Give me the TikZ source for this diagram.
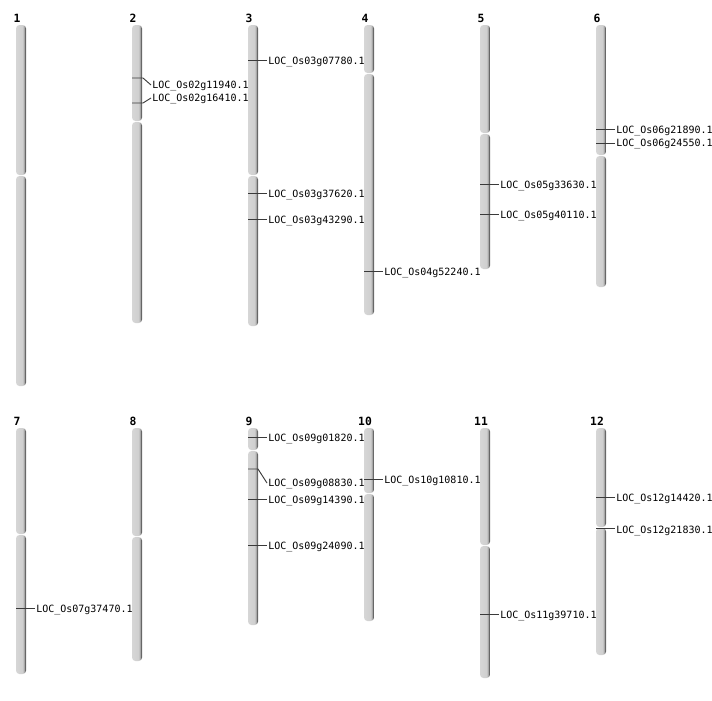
\documentclass[tikz,border=0pt]{standalone}
\usepackage{fontspec}
\newfontfamily\locfont{DejaVu Sans Mono}
\usepackage{tikz}

\definecolor{chrlight}{HTML}{D6D6D6}
\definecolor{chrmid}{HTML}{CFCFCF}
\definecolor{chrrim}{HTML}{A8A8A8}
\definecolor{chrdark}{HTML}{666666}
\definecolor{tickgray}{HTML}{3A3A3A}
\pgfdeclarehorizontalshading{chrshade}{100bp}{color(0bp)=(chrlight); color(25bp)=(chrlight); color(58bp)=(chrmid); color(65bp)=(chrrim); color(70bp)=(chrdark); color(75bp)=(chrdark); color(100bp)=(chrdark)}

\begin{document}
\begin{tikzpicture}[x=0.75pt,y=0.75pt,yscale=-1,xscale=1,
	chrarm/.style={shading=chrshade, rounded corners=2.6pt},
	chrnum/.style={font=\locfont\bfseries\fontsize{8.5}{9}\selectfont, anchor=base, inner sep=0.75pt},
	loclabel/.style={font=\locfont\fontsize{7.5}{9}\selectfont, anchor=west, inner sep=0.75pt, text height=6pt, text depth=0.5pt},
	marker/.style={draw=tickgray, line width=0.7pt}]
	\useasboundingbox (0,0) rectangle (712,700);
	
	% Chromosome arms, top row
	\shade[chrarm] (16,25) rectangle (26,175);
	\shade[chrarm] (16,176) rectangle (26,386);
	\shade[chrarm] (132,25) rectangle (142,121);
	\shade[chrarm] (132,122) rectangle (142,323);
	\shade[chrarm] (248,25) rectangle (258,175);
	\shade[chrarm] (248,176) rectangle (258,326);
	\shade[chrarm] (364,25) rectangle (374,73);
	\shade[chrarm] (364,74) rectangle (374,315);
	\shade[chrarm] (480,25) rectangle (490,133);
	\shade[chrarm] (480,134) rectangle (490,269);
	\shade[chrarm] (596,25) rectangle (606,155);
	\shade[chrarm] (596,156) rectangle (606,287);
	% Chromosome arms, bottom row
	\shade[chrarm] (16,428) rectangle (26,534);
	\shade[chrarm] (16,535) rectangle (26,674);
	\shade[chrarm] (132,428) rectangle (142,536);
	\shade[chrarm] (132,537) rectangle (142,661);
	\shade[chrarm] (248,428) rectangle (258,450);
	\shade[chrarm] (248,451) rectangle (258,625);
	\shade[chrarm] (364,428) rectangle (374,493);
	\shade[chrarm] (364,494) rectangle (374,621);
	\shade[chrarm] (480,428) rectangle (490,545);
	\shade[chrarm] (480,546) rectangle (490,678);
	\shade[chrarm] (596,428) rectangle (606,527);
	\shade[chrarm] (596,528) rectangle (606,655);
	
	% Chromosome numbers
	\node[chrnum] (c1) at (17,22) {1};
	\node[chrnum] (c2) at (133,22) {2};
	\node[chrnum] (c3) at (249,22) {3};
	\node[chrnum] (c4) at (365,22) {4};
	\node[chrnum] (c5) at (481,22) {5};
	\node[chrnum] (c6) at (597,22) {6};
	\node[chrnum] (c7) at (17,425) {7};
	\node[chrnum] (c8) at (133,425) {8};
	\node[chrnum] (c9) at (249,425) {9};
	\node[chrnum] (c10) at (365,425) {10};
	\node[chrnum] (c11) at (481,425) {11};
	\node[chrnum] (c12) at (597,425) {12};
	
	% Gene positions
	\coordinate (m2a) at (132,78);
	\coordinate (m2b) at (132,103);
	\coordinate (m3a) at (248,60);
	\coordinate (m3b) at (248,193);
	\coordinate (m3c) at (248,219);
	\coordinate (m4a) at (364,271);
	\coordinate (m5a) at (480,184);
	\coordinate (m5b) at (480,214);
	\coordinate (m6a) at (596,129);
	\coordinate (m6b) at (596,143);
	\coordinate (m7a) at (16,608);
	\coordinate (m9a) at (248,437);
	\coordinate (m9b) at (248,469);
	\coordinate (m9c) at (248,499);
	\coordinate (m9d) at (248,545);
	\coordinate (m10a) at (364,479);
	\coordinate (m11a) at (480,614);
	\coordinate (m12a) at (596,497);
	\coordinate (m12b) at (596,528);
	
	% Text Node
	\node[loclabel] (l2a) at (151,85) {LOC\_Os02g11940.1};
	\node[loclabel] (l2b) at (151,98) {LOC\_Os02g16410.1};
	\node[loclabel] (l3a) at (267,61) {LOC\_Os03g07780.1};
	\node[loclabel] (l3b) at (267,194) {LOC\_Os03g37620.1};
	\node[loclabel] (l3c) at (267,220) {LOC\_Os03g43290.1};
	\node[loclabel] (l4a) at (383,272) {LOC\_Os04g52240.1};
	\node[loclabel] (l5a) at (499,185) {LOC\_Os05g33630.1};
	\node[loclabel] (l5b) at (499,215) {LOC\_Os05g40110.1};
	\node[loclabel] (l6a) at (615,130) {LOC\_Os06g21890.1};
	\node[loclabel] (l6b) at (615,143) {LOC\_Os06g24550.1};
	\node[loclabel] (l7a) at (35,609) {LOC\_Os07g37470.1};
	\node[loclabel] (l9a) at (267,438) {LOC\_Os09g01820.1};
	\node[loclabel] (l9b) at (267,483) {LOC\_Os09g08830.1};
	\node[loclabel] (l9c) at (267,500) {LOC\_Os09g14390.1};
	\node[loclabel] (l9d) at (267,546) {LOC\_Os09g24090.1};
	\node[loclabel] (l10a) at (383,480) {LOC\_Os10g10810.1};
	\node[loclabel] (l11a) at (499,615) {LOC\_Os11g39710.1};
	\node[loclabel] (l12a) at (615,498) {LOC\_Os12g14420.1};
	\node[loclabel] (l12b) at (615,530) {LOC\_Os12g21830.1};
	
	% Straight Lines
	\draw[marker] (m2a) -- ++(11,0) -- (l2a.west);
	\draw[marker] (m2b) -- ++(11,0) -- (l2b.west);
	\draw[marker] (m3a) -- (m3a -| l3a.west);
	\draw[marker] (m3b) -- (m3b -| l3b.west);
	\draw[marker] (m3c) -- (m3c -| l3c.west);
	\draw[marker] (m4a) -- (m4a -| l4a.west);
	\draw[marker] (m5a) -- (m5a -| l5a.west);
	\draw[marker] (m5b) -- (m5b -| l5b.west);
	\draw[marker] (m6a) -- (m6a -| l6a.west);
	\draw[marker] (m6b) -- (m6b -| l6b.west);
	\draw[marker] (m7a) -- (m7a -| l7a.west);
	\draw[marker] (m9a) -- (m9a -| l9a.west);
	\draw[marker] (m9b) -- ++(10,0) -- (l9b.west);
	\draw[marker] (m9c) -- (m9c -| l9c.west);
	\draw[marker] (m9d) -- (m9d -| l9d.west);
	\draw[marker] (m10a) -- (m10a -| l10a.west);
	\draw[marker] (m11a) -- (m11a -| l11a.west);
	\draw[marker] (m12a) -- (m12a -| l12a.west);
	\draw[marker] (m12b) -- (m12b -| l12b.west);
	
\end{tikzpicture}
\end{document}
